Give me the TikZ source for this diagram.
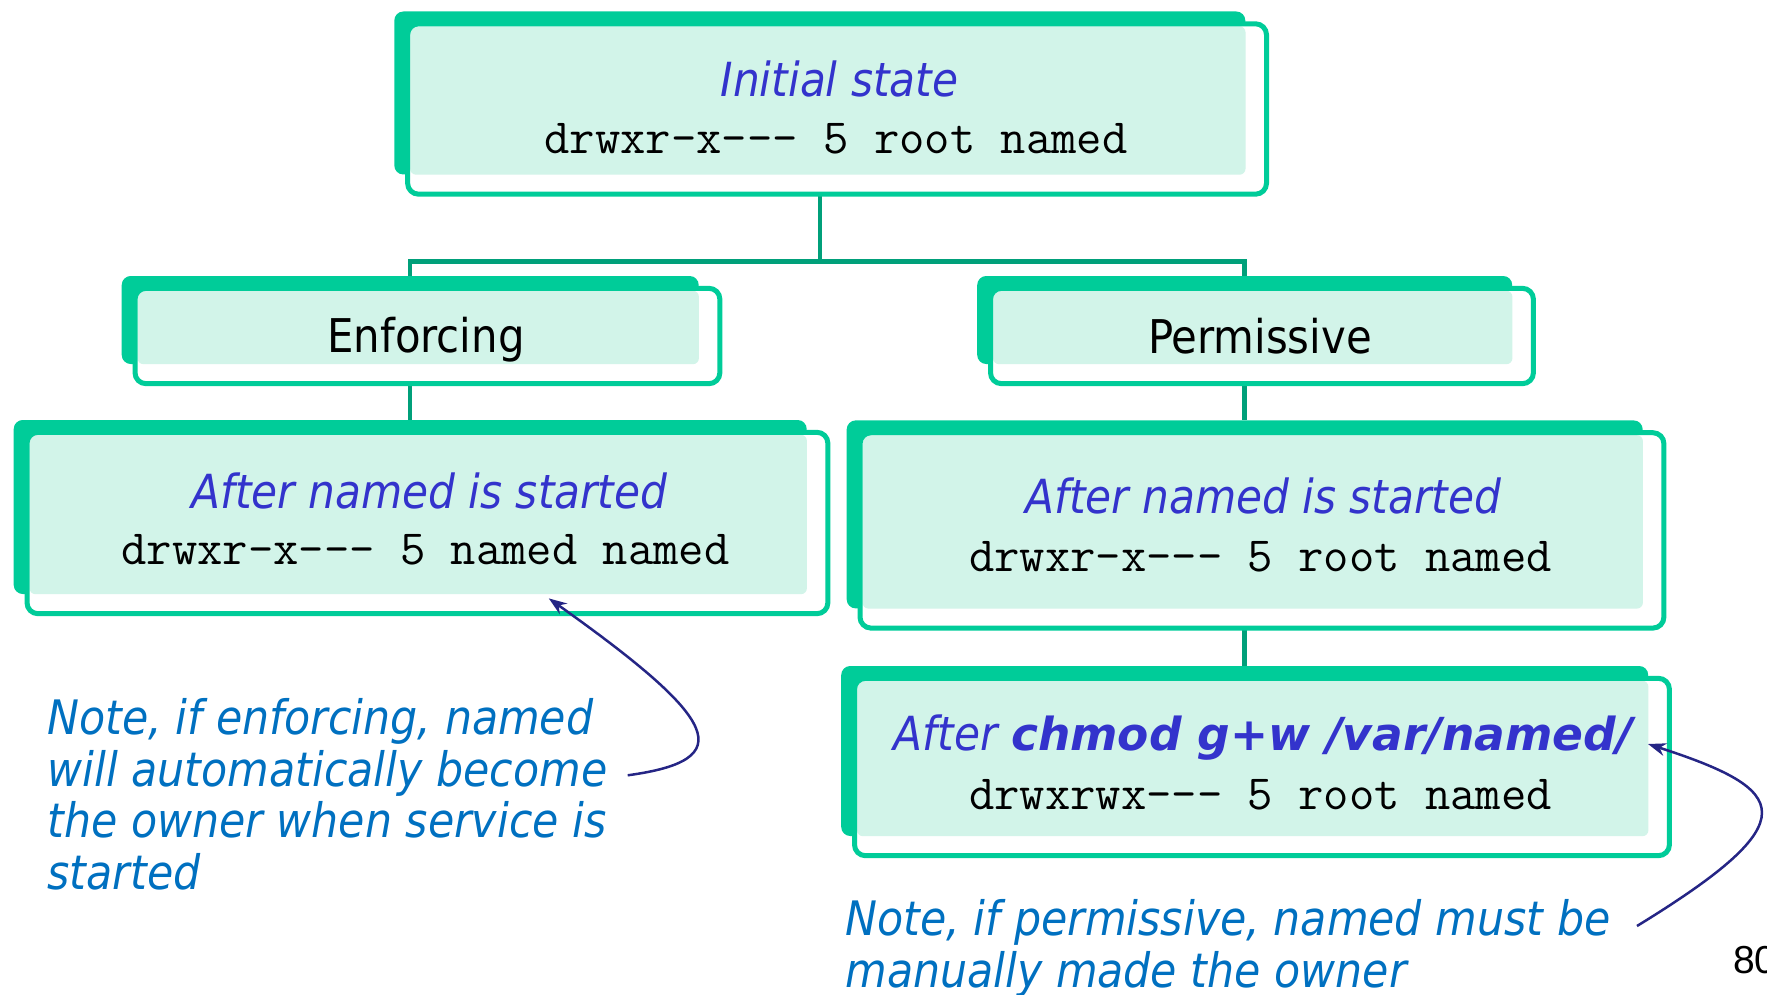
\documentclass[tikz,border=0pt]{standalone}
\usepackage{fontspec}
\newfontfamily\cond{DejaVu Sans Condensed}[ItalicFont={DejaVu Sans Condensed Oblique},BoldFont={DejaVu Sans Condensed Bold},BoldItalicFont={DejaVu Sans Condensed Bold Oblique}]
\newfontfamily\wide{DejaVu Sans}[ItalicFont={DejaVu Sans Oblique},BoldFont={DejaVu Sans Bold},BoldItalicFont={DejaVu Sans Bold Oblique}]
\setmonofont{Latin Modern Mono}
\newfontfamily\pagefont{Liberation Sans}
\usetikzlibrary{calc,arrows.meta}

\definecolor{boxgreen}{HTML}{00CC99}
\definecolor{linkgreen}{HTML}{00A07A}
\definecolor{mint}{HTML}{D2F4E9}
\definecolor{headblue}{HTML}{3333CC}
\definecolor{noteblue}{HTML}{0070C0}
\definecolor{pointercol}{HTML}{252585}

\tikzset{
  backbox/.style={rectangle, rounded corners=9pt, fill=boxgreen, inner sep=0pt},
  link/.style={draw=linkgreen, line width=4.5pt},
  heading/.style={font=\cond\itshape\fontsize{47}{56}\selectfont, text=headblue, anchor=base, inner sep=0pt},
  listing/.style={font=\ttfamily\fontsize{49.2}{58}\selectfont, anchor=base, inner sep=0pt},
  mode/.style={font=\cond\fontsize{46.5}{56}\selectfont, anchor=base, inner sep=0pt},
  note/.style={font=\cond\itshape\fontsize{47.5}{51.5}\selectfont, text=noteblue, anchor=base west, inner sep=0pt, align=left},
  pointer/.style={draw=pointercol, line width=2.5pt, -{Stealth[length=18pt,width=13pt]}}
}

% white front panel with mint face, offset down-right from the green back panel
\newcommand\frontof[1]{%
  \fill[white, rounded corners=11pt] ($(#1.north west)+(13.5,12.5)$) rectangle ($(#1.south east)+(21,19.5)$);
  \fill[mint, rounded corners=6pt] ($(#1.north west)+(16,15)$) rectangle ($(#1.south east)$);
  \draw[boxgreen, line width=5pt, rounded corners=11pt] ($(#1.north west)+(13.5,12.5)$) rectangle ($(#1.south east)+(21,19.5)$);
}

\begin{document}
\begin{tikzpicture}[x=1pt, y=-1pt]
\useasboundingbox (0,0) rectangle (1767,995);

% back panels
\node[backbox, minimum width=851pt, minimum height=163pt] (init) at (819.8,93) {};
\node[backbox, minimum width=577pt, minimum height=88pt] (enf) at (410.2,320) {};
\node[backbox, minimum width=535pt, minimum height=88pt] (perm) at (1244.7,320) {};
\node[backbox, minimum width=793pt, minimum height=174pt] (enfstart) at (410.2,507) {};
\node[backbox, minimum width=796pt, minimum height=188pt] (permstart) at (1244.7,514.4) {};
\node[backbox, minimum width=807pt, minimum height=170pt] (chmod) at (1244.7,751) {};

% tree connectors
\coordinate (fork) at (819.8,261.4);
\draw[link] (init.south) -- (fork);
\draw[link] (enf.north) |- (fork) -| (perm.north);
\draw[link] (enf.south) -- (enfstart.north);
\draw[link] (perm.south) -- (permstart.north);
\draw[link] (permstart.south) -- (chmod.north);

% front panels
\frontof{init}
\frontof{enf}
\frontof{perm}
\frontof{enfstart}
\frontof{permstart}
\frontof{chmod}

% panel texts
\node[heading] (inittitle) at (839.5,96.9) {Initial state};
\node[listing] (initls) at (836,153.3) {drwxr-x--- 5 root named};

\node[mode] (enflabel) at (426,352.7) {Enforcing};
\node[mode] (permlabel) at (1259.9,353.3) {Permissive};

\node[heading] (enfstarttitle) at (429.4,508.2) {After named is started};
\node[listing] (enfstartls) at (425.4,564.6) {drwxr-x--- 5 named named};

\node[heading] (permstarttitle) at (1263.3,513.9) {After named is started};
\node[listing] (permstartls) at (1260.4,571.3) {drwxr-x--- 5 root named};

\node[heading] (chmodtitle) at (1263.3,750.5) {After {\wide\bfseries\itshape\fontsize{45.5}{56}\selectfont chmod g+w /var/named/}};
\node[listing] (chmodls) at (1260.4,809.1) {drwxrwx--- 5 root named};

% notes and their pointers (anchored at the last line's baseline)
\node[note] (enfnote) at (47.3,889) {Note, if enforcing, named\\will automatically become\\the owner when service is\\started};
\node[note] (permnote) at (845.2,987.2) {Note, if permissive, named must be\\manually made the owner};

\coordinate (enftail) at (627.7,775.3);
\coordinate (enftip) at (548.8,598.4);
\draw[pointer] (enftail) .. controls (740,760) and (720,720) .. (enftip);

\coordinate (permtail) at (1637,926);
\coordinate (permtip) at (1648,744);
\draw[pointer] (permtail) .. controls (1810,820) and (1790,790) .. (permtip);

% page number
\node[font=\pagefont\fontsize{39}{46}\selectfont, anchor=base west, inner sep=0pt] (pagenum) at (1733,973) {80};
\end{tikzpicture}
\end{document}
